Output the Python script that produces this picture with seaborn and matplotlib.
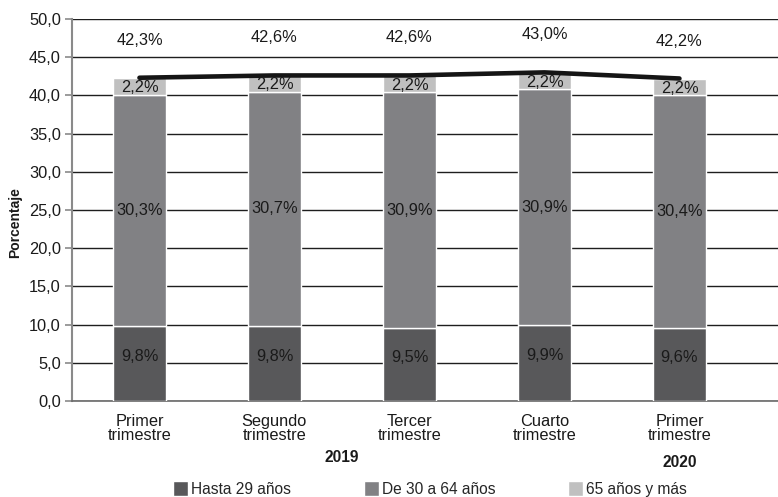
import numpy as np
import pandas as pd
import seaborn as sns
import matplotlib.pyplot as plt
from matplotlib.ticker import FuncFormatter, MultipleLocator

# datos
periodos = ["I-2019", "II-2019", "III-2019", "IV-2019", "I-2020"]
trimestres = ["Primer\ntrimestre", "Segundo\ntrimestre", "Tercer\ntrimestre",
              "Cuarto\ntrimestre", "Primer\ntrimestre"]
hasta_29 = [9.8, 9.8, 9.5, 9.9, 9.6]
de_30_64 = [30.3, 30.7, 30.9, 30.9, 30.4]
mas_65 = [2.2, 2.2, 2.2, 2.2, 2.2]
total = [42.3, 42.6, 42.6, 43.0, 42.2]
anios = ["2019", "2020"]

sns.set_theme(style="white")
plt.rcParams['font.family'] = ['Liberation Sans', 'DejaVu Sans']

df = pd.DataFrame({"periodo": periodos, "hasta": hasta_29, "medio": de_30_64,
                   "mayor": mas_65, "total": total})
df["base2"] = df["hasta"] + df["medio"]

c_hasta, c_medio, c_mayor = "#58585a", "#818184", "#c0c0c0"
fs = 11.8

fig, ax = plt.subplots(figsize=(7.78, 4.97), dpi=100)
fig.subplots_adjust(left=0.0925, right=1.0, bottom=0.193, top=0.962)

sns.barplot(data=df, x="periodo", y="hasta", color=c_hasta, width=0.39,
            saturation=1, label="Hasta 29 años", ax=ax, zorder=3)
sns.barplot(data=df, x="periodo", y="medio", bottom=df["hasta"], color=c_medio,
            width=0.39, saturation=1, label="De 30 a 64 años", ax=ax, zorder=3)
sns.barplot(data=df, x="periodo", y="mayor", bottom=df["base2"], color=c_mayor,
            width=0.39, saturation=1, label="65 años y más", ax=ax, zorder=3)
sns.pointplot(data=df, x="periodo", y="total", color="#151515", markers="",
              linewidth=3.3, errorbar=None, ax=ax, zorder=4)

fmt = lambda v: f"{v:.1f}".replace(".", ",") + "%"
for i in range(len(periodos)):
    ax.text(i, hasta_29[i] * 0.6, fmt(hasta_29[i]), ha="center", va="center",
            fontsize=fs, color="#1a1a1a", zorder=5)
    ax.text(i, hasta_29[i] + de_30_64[i] / 2, fmt(de_30_64[i]), ha="center",
            va="center", fontsize=fs, color="#1a1a1a", zorder=5)
    ax.text(i, df["base2"][i] + mas_65[i] / 2 - 0.2, fmt(mas_65[i]), ha="center",
            va="center", fontsize=fs, color="#1a1a1a", zorder=5)
    ax.text(i, total[i] + 4.9, fmt(total[i]), ha="center", va="center",
            fontsize=fs, color="#1a1a1a", zorder=5)

ax.set_ylim(0, 50)
ax.set_xlim(-0.5, 4.73)
ax.yaxis.set_major_locator(MultipleLocator(5))
ax.yaxis.set_major_formatter(FuncFormatter(lambda v, p: f"{v:.1f}".replace(".", ",")))
ax.grid(axis="y", color="#1e1e1e", linewidth=1, zorder=0)
ax.set_axisbelow(True)
for s in ["top", "right"]:
    ax.spines[s].set_visible(False)
ax.spines["left"].set_color("#8a8a8a")
ax.spines["left"].set_linewidth(1.5)
ax.spines["bottom"].set_color("#6a6a6a")
ax.spines["bottom"].set_linewidth(1.2)

ax.set_xticks(range(len(periodos)))
ax.set_xticklabels(trimestres, fontsize=fs, color="#1a1a1a", linespacing=0.95)
ax.tick_params(axis="x", length=0, pad=9)
ax.tick_params(axis="y", left=True, length=5, width=1.2, color="#8a8a8a",
               labelsize=fs, labelcolor="#1a1a1a", pad=3)
ax.set_xlabel("")
ax.set_ylabel("Porcentaje", fontsize=10, fontweight="bold", color="#1a1a1a")
ax.yaxis.set_label_coords(-0.07, 0.468)

trans = ax.get_xaxis_transform()
ax.text(1.5, -0.147, anios[0], transform=trans, ha="center", va="center",
        fontsize=11.2, fontweight="bold", color="#1a1a1a")
ax.text(4, -0.162, anios[1], transform=trans, ha="center", va="center",
        fontsize=11.2, fontweight="bold", color="#1a1a1a")

handles, labels = ax.get_legend_handles_labels()
keep = ("Hasta 29 años", "De 30 a 64 años", "65 años y más")
handles = [h for h, l in zip(handles, labels) if l in keep]
labels = [l for l in labels if l in keep]
if ax.get_legend() is not None:
    ax.get_legend().remove()
fig.legend(handles, labels, loc="center", bbox_to_anchor=(430 / 778, 1 - 489 / 497),
           ncol=3, frameon=False, fontsize=11.2, handlelength=0.95, handleheight=1.1,
           handletextpad=0.2, columnspacing=4.7, borderaxespad=0)

fig.savefig("out.png", dpi=100)
